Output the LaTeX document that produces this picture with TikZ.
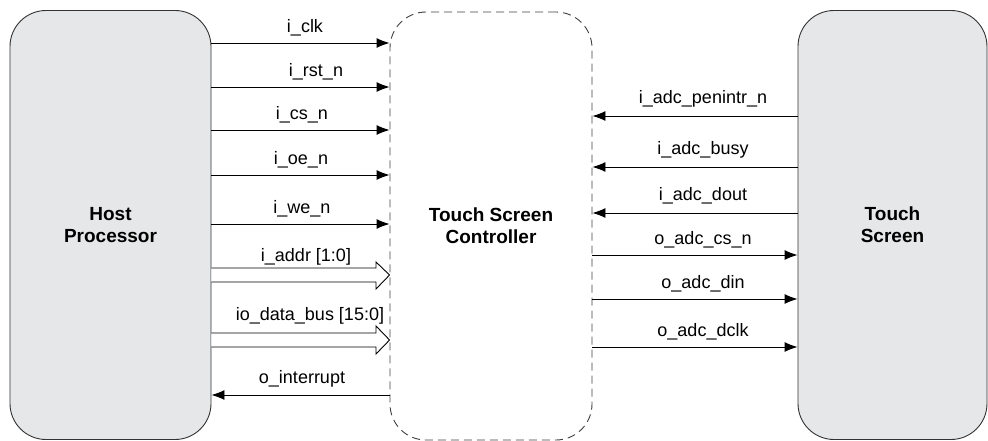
\documentclass[tikz,border=0pt]{standalone}
\usepackage{fontspec}
\setmainfont{Liberation Sans}
\usetikzlibrary{arrows.meta}
\definecolor{boxgray}{HTML}{E6E7E8}
\begin{document}
\begin{tikzpicture}[x=1pt,y=-1pt,
  blk/.style={draw=black!80, line width=0.9pt, fill=boxgray, rounded corners=36pt, inner sep=0pt, font=\fontsize{19}{22}\selectfont\bfseries, align=center},
  ctl/.style={draw=black!75, line width=0.9pt, dash pattern=on 8pt off 5pt, rounded corners=36pt, inner sep=0pt, font=\fontsize{19}{22}\selectfont\bfseries, align=center},
  sig/.style={line width=0.9pt, -{Latex[length=13pt,width=10pt]}},
  lbl/.style={font=\fontsize{18}{21}\selectfont, inner sep=0pt},
  bus/.style={line width=0.9pt, fill=white, line join=miter}
]
\useasboundingbox (0,0) rectangle (988,441);
\node[blk, minimum width=201pt, minimum height=429pt] (host) at (110.5,225) {Host\\Processor};
\node[ctl, minimum width=202pt, minimum height=428pt] (tsc) at (491,226) {Touch Screen\\Controller};
\node[blk, minimum width=189pt, minimum height=429pt] (ts) at (892.5,225) {Touch\\Screen};

% left side single signals
\foreach \y/\t/\lx in {43/i\_clk/305, 87/i\_rst\_n/316, 130/i\_cs\_n/302, 175/i\_oe\_n/301, 224/i\_we\_n/302}{
  \draw[sig] (host.east |- 0,\y) -- (tsc.west |- 0,\y);
  \node[lbl] at (\lx,\y-15) {\t};
}
% buses
\draw[bus] (host.east |- 0,268) -- (376,268) -- (376,262) -- (tsc.west |- 0,275) -- (376,289) -- (376,282) -- (host.east |- 0,282);
\node[lbl] at (306,257) {i\_addr [1:0]};
\draw[bus] (host.east |- 0,333) -- (376,333) -- (376,326) -- (tsc.west |- 0,340) -- (376,354) -- (376,347) -- (host.east |- 0,347);
\node[lbl] at (310,316) {io\_data\_bus [15:0]};
% interrupt
\draw[sig] (tsc.west |- 0,395) -- (host.east |- 0,395);
\node[lbl] at (302,379) {o\_interrupt};

% right side
\foreach \y/\t in {116/i\_adc\_penintr\_n, 167/i\_adc\_busy, 213/i\_adc\_dout}{
  \draw[sig] (ts.west |- 0,\y) -- (tsc.east |- 0,\y);
  \node[lbl] at (703,\y-17) {\t};
}
\foreach \y/\t in {255/o\_adc\_cs\_n, 299/o\_adc\_din, 347/o\_adc\_dclk}{
  \draw[sig] (tsc.east |- 0,\y) -- (ts.west |- 0,\y);
  \node[lbl] at (703,\y-15) {\t};
}
\end{tikzpicture}
\end{document}
